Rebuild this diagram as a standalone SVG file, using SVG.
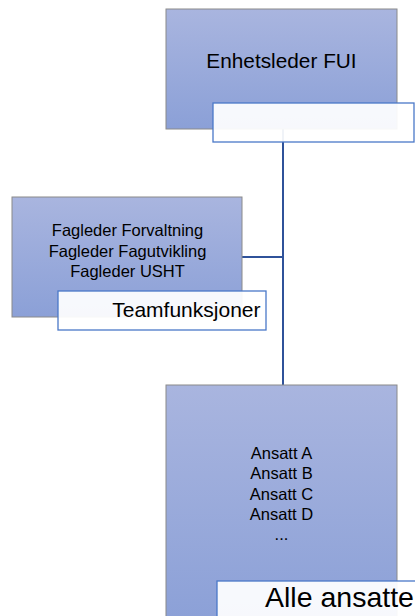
<svg xmlns="http://www.w3.org/2000/svg" width="415" height="616" viewBox="0 0 415 616">
<defs>
<linearGradient id="ng" x1="0" y1="0" x2="0" y2="1">
<stop offset="0" stop-color="#a9b5df"/>
<stop offset="1" stop-color="#8ba0d7"/>
</linearGradient>
<style>
.node{fill:url(#ng);stroke:#8a8a8a;stroke-width:1}
.lbl{fill:#ffffff;fill-opacity:0.93;stroke:#4a78c8;stroke-width:1.3}
.t{font-family:"Liberation Sans",Arial,sans-serif;fill:#000;text-anchor:middle}
.conn{stroke:#2f529a;stroke-width:2;fill:none}
</style>
</defs>
<rect width="415" height="616" fill="#ffffff"/>
<g id="connectors">
<line class="conn" x1="283" y1="129" x2="283" y2="385"/>
<line class="conn" x1="242" y1="257" x2="284" y2="257"/>
</g>
<g id="node-enhetsleder">
<rect class="node" x="166" y="9" width="231" height="120"/>
<text class="t" x="281.5" y="68" font-size="20.8">Enhetsleder FUI</text>
<rect class="lbl" x="213" y="103" width="201" height="39"/>
</g>
<g id="node-fagleder">
<rect class="node" x="12" y="197" width="230" height="120"/>
<text class="t" font-size="16.5"><tspan x="127.5" y="236">Fagleder Forvaltning</tspan><tspan x="127.5" y="256.5">Fagleder Fagutvikling</tspan><tspan x="127.5" y="277">Fagleder USHT</tspan></text>
<rect class="lbl" x="58" y="291" width="208" height="39"/>
<text class="t" x="260.5" y="317" font-size="21" style="text-anchor:end">Teamfunksjoner</text>
</g>
<g id="node-ansatte">
<rect class="node" x="166" y="385" width="231" height="240"/>
<text class="t" font-size="16.5"><tspan x="281.5" y="459">Ansatt A</tspan><tspan x="281.5" y="479.3">Ansatt B</tspan><tspan x="281.5" y="499.6">Ansatt C</tspan><tspan x="281.5" y="519.9">Ansatt D</tspan><tspan x="281.5" y="540">...</tspan></text>
<rect class="lbl" x="217" y="581" width="220" height="45"/>
<text class="t" x="265" y="607" font-size="28.5" style="text-anchor:start">Alle ansatte</text>
</g>
</svg>
